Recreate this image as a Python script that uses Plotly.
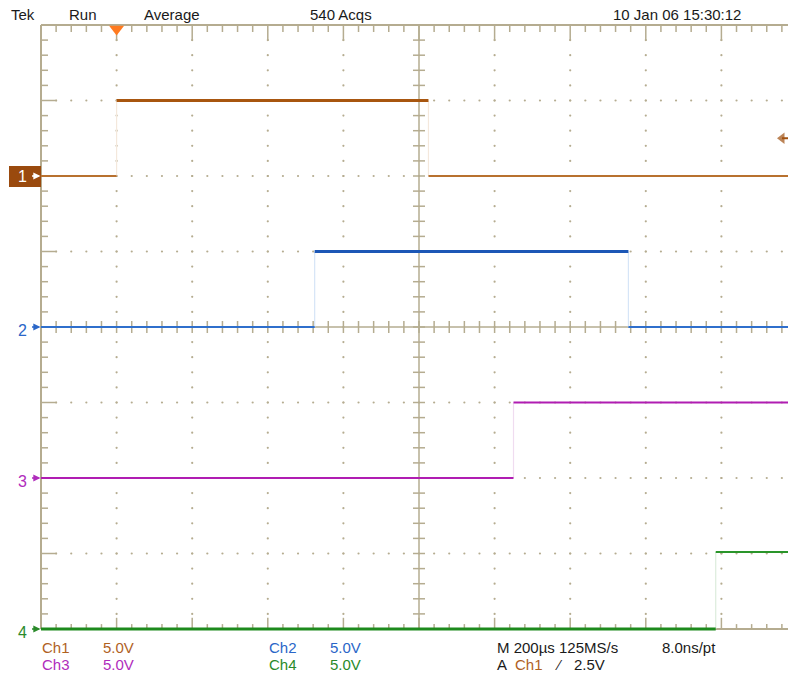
import plotly.graph_objects as go

# ---- acquisition settings ----
US_PER_DIV = 200.0          # horizontal scale, microseconds per division
VOLTS_PER_DIV = 5.0         # vertical scale for every channel
TRIGGER_LEVEL_V = 2.5       # trigger on Ch1 rising edge
T_START_US = -200.0         # left edge of the graticule (trigger 1 div in)
N_XDIV, N_YDIV = 10, 8
ACQS = 540

# ---- channel data ----
CHANNELS = ["Ch1", "Ch2", "Ch3", "Ch4"]
CH_POSITION_DIV = [6, 4, 2, 0]          # ground reference of each trace, in divisions
CH1_EDGES_US = [0, 825]
CH1_LEVELS_V = [0.0, 5.0, 0.0]
CH2_EDGES_US = [524, 1354]
CH2_LEVELS_V = [0.0, 5.0, 0.0]
CH3_EDGES_US = [1050]
CH3_LEVELS_V = [0.0, 5.0]
CH4_EDGES_US = [1585]
CH4_LEVELS_V = [0.0, 5.1]

EDGES = [CH1_EDGES_US, CH2_EDGES_US, CH3_EDGES_US, CH4_EDGES_US]
LEVELS = [CH1_LEVELS_V, CH2_LEVELS_V, CH3_LEVELS_V, CH4_LEVELS_V]

# ---- styling ----
TEXT_COLORS = ["#b0621f", "#2a66c8", "#b02cbc", "#2a8a2a"]
HI_STYLE = [("#a8560f", 3), ("#1c57b6", 3), ("#b01db2", 2), ("#2a952a", 2)]
LO_STYLE = [("#b8712f", 2), ("#2f6fcc", 2), ("#b01db2", 2), ("#1d8a1d", 3)]
EDGE_COLORS = ["#f4e8dc", "#d6e5f7", "#f0dcf0", "#dcecdc"]
GRID = "#b5ac90"
FONT = "Liberation Sans, Arial, sans-serif"

W, H = 788, 687
GX0, GY0 = 41, 25            # graticule top-left on screen
PX_DIV_X, PX_DIV_Y = 75.6, 75.5


def xpx(p):
    return T_START_US + (p - GX0) / PX_DIV_X * US_PER_DIV


def ypx(p):
    return N_YDIV - (p - GY0) / PX_DIV_Y


DX = US_PER_DIV / PX_DIV_X   # microseconds per screen pixel
DY = 1.0 / PX_DIV_Y          # divisions per screen pixel
T_END_US = T_START_US + N_XDIV * US_PER_DIV
T_MID_US = T_START_US + N_XDIV / 2 * US_PER_DIV
MINOR_T = US_PER_DIV / 5

fig = go.Figure()

# ---- graticule ----
gx, gy = [], []


def seg(x0, y0, x1, y1):
    gx.extend([x0, x1, None])
    gy.extend([y0, y1, None])


frame_x, frame_y = [], []
for x0, y0, x1, y1 in [(T_START_US, 0, T_START_US, N_YDIV), (T_END_US, 0, T_END_US, N_YDIV),
                       (T_START_US, 0, T_END_US, 0), (T_START_US, N_YDIV, T_END_US, N_YDIV)]:
    frame_x.extend([x0, x1, None])
    frame_y.extend([y0, y1, None])

seg(T_MID_US, 0, T_MID_US, N_YDIV)
seg(T_START_US, N_YDIV / 2, T_END_US, N_YDIV / 2)

for k in range(1, N_XDIV * 5):
    t = T_START_US + k * MINOR_T
    ln = 16 if k % 5 == 0 else 7
    seg(t, N_YDIV, t, N_YDIV - ln * DY)          # top edge
    seg(t, 0, t, ln * DY * 0.7)                  # bottom edge
    seg(t, N_YDIV / 2 - 6 * DY, t, N_YDIV / 2 + 6 * DY)   # centre horizontal
for j in range(1, N_YDIV * 5):
    yv = j / 5
    ln = 16 if j % 5 == 0 else 7
    seg(T_START_US, yv, T_START_US + ln * DX, yv)          # left edge
    seg(T_MID_US - 6 * DX, yv, T_MID_US + 6 * DX, yv)      # centre vertical

dots_x, dots_y = [], []
for k in range(1, N_XDIV):
    if k == N_XDIV // 2:
        continue
    t = T_START_US + k * US_PER_DIV
    for j in range(1, N_YDIV * 5):
        dots_x.append(t)
        dots_y.append(j / 5)
for j in range(1, N_YDIV):
    if j == N_YDIV // 2:
        continue
    for k in range(1, N_XDIV * 5):
        dots_x.append(T_START_US + k * MINOR_T)
        dots_y.append(j)

fig.add_trace(go.Scatter(x=dots_x, y=dots_y, mode="markers", hoverinfo="skip",
                         marker=dict(size=2.2, color=GRID, line=dict(width=0))))
fig.add_trace(go.Scatter(x=gx, y=gy, mode="lines", hoverinfo="skip",
                         line=dict(color=GRID, width=1.5)))
fig.add_trace(go.Scatter(x=frame_x, y=frame_y, mode="lines", hoverinfo="skip",
                         line=dict(color=GRID, width=2)))

# ---- waveforms ----
for i, name in enumerate(CHANNELS):
    pos = CH_POSITION_DIV[i]
    bounds = [T_START_US] + EDGES[i] + [T_END_US]
    levels = [pos + v / VOLTS_PER_DIV for v in LEVELS[i]]
    # fast transitions are drawn faintly
    ex, ey = [], []
    for e, a, b in zip(EDGES[i], levels[:-1], levels[1:]):
        ex.extend([e, e, None])
        ey.extend([a, b, None])
    fig.add_trace(go.Scatter(x=ex, y=ey, mode="lines", hoverinfo="skip",
                             line=dict(color=EDGE_COLORS[i], width=1.2)))
    for s in range(len(levels)):
        color, width = HI_STYLE[i] if LEVELS[i][s] > 0 else LO_STYLE[i]
        fig.add_trace(go.Scatter(x=[bounds[s], bounds[s + 1]], y=[levels[s], levels[s]],
                                 mode="lines", name=name, hoverinfo="skip",
                                 line=dict(color=color, width=width)))

# trigger position and trigger level markers
fig.add_trace(go.Scatter(x=[0], y=[ypx(29)], mode="markers", cliponaxis=False,
                         hoverinfo="skip",
                         marker=dict(symbol="triangle-down", size=13, color="#ff7a1f",
                                     line=dict(width=0))))
fig.add_trace(go.Scatter(x=[xpx(782), xpx(788)],
                         y=[CH_POSITION_DIV[0] + TRIGGER_LEVEL_V / VOLTS_PER_DIV] * 2,
                         mode="lines+markers", cliponaxis=False, hoverinfo="skip",
                         line=dict(color="#a0500f", width=2),
                         marker=dict(symbol=["triangle-left", "line-ns"], size=[10, 0],
                                     color="#a0500f", line=dict(width=0))))

# ---- texts ----
ann = []


def text(s, px, py, color="#1a1a1a", size=15):
    ann.append(dict(text=s, x=px / W, y=1 - py / H, xref="paper", yref="paper",
                    xanchor="left", yanchor="middle", showarrow=False,
                    font=dict(family=FONT, size=size, color=color)))


text("Tek", 9, 14)
text("Run", 67, 14)
text("Average", 142, 14)
text(f"{ACQS} Acqs", 308, 14)
text("10 Jan 06 15:30:12", 611, 14)

vdiv = f"{VOLTS_PER_DIV:.1f}V"
for ch, (cx, vx, py) in enumerate([(40, 101, 647), (267, 328, 647), (40, 101, 664), (267, 328, 664)]):
    text(CHANNELS[ch], cx, py, TEXT_COLORS[ch])
    text(vdiv, vx, py, TEXT_COLORS[ch])
text(f"M {US_PER_DIV:.0f}µs 125MS/s", 495, 647)
text("8.0ns/pt", 660, 647)
text("A", 495, 664)
text("Ch1", 513, 664, TEXT_COLORS[0])
text("⁄", 553, 665, size=14)
text(f"{TRIGGER_LEVEL_V:.1f}V", 572, 664)

# channel ground markers on the left
shapes = [dict(type="rect", xref="paper", yref="y", x0=9 / W, x1=GX0 / W,
               y0=CH_POSITION_DIV[0] - 11 * DY, y1=CH_POSITION_DIV[0] + 10 * DY,
               fillcolor="#9a4a0e", line=dict(width=0), layer="above")]
for i in range(4):
    pos = CH_POSITION_DIV[i]
    col = "#ffffff" if i == 0 else TEXT_COLORS[i]
    ann.append(dict(text=str(i + 1), x=22 / W, y=pos + (0 if i == 0 else -3 * DY),
                    xref="paper", yref="y", xanchor="center", yanchor="middle",
                    showarrow=False, font=dict(family=FONT, size=16, color=col)))
    ann.append(dict(text="", x=(GX0 - 0.5) / W, y=pos, xref="paper", yref="y",
                    ax=-10, ay=0, axref="pixel", ayref="pixel", showarrow=True,
                    arrowhead=2, arrowsize=0.9, arrowwidth=1.6, arrowcolor=col,
                    standoff=0, startstandoff=0))

fig.update_layout(
    width=W, height=H,
    margin=dict(l=0, r=0, t=0, b=0),
    paper_bgcolor="#ffffff", plot_bgcolor="#ffffff",
    showlegend=False,
    xaxis=dict(range=[xpx(0), xpx(W)], visible=False, fixedrange=True),
    yaxis=dict(range=[ypx(H), ypx(0)], visible=False, fixedrange=True),
    annotations=ann, shapes=shapes,
)

fig.write_html("out.html")
